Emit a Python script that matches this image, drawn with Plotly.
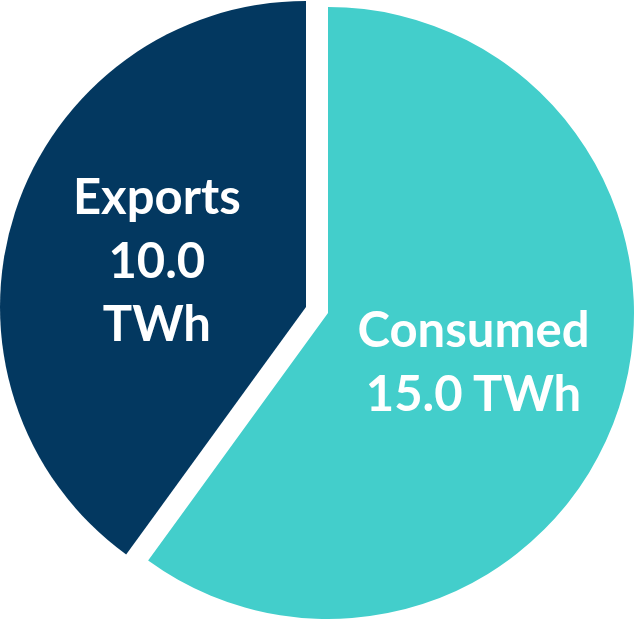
import plotly.graph_objects as go

# Electricity split (TWh)
labels = ["Consumed", "Exports"]
values = [15.0, 10.0]
colors = ["#43CECB", "#033860"]
# line breaks used inside each slice's label
label_breaks = ["<br>", "<br>"]
unit_breaks = [" ", "<br>"]

texts = [
    f"{lab}{b1}{val:.1f}{b2}TWh"
    for lab, val, b1, b2 in zip(labels, values, label_breaks, unit_breaks)
]

W, H = 636, 620
# each wedge is drawn in its own, slightly offset domain so the two pieces
# sit apart from each other with a white gap
domains = [
    dict(x=[22 / W, 634 / W], y=[1 - 619 / H, 1 - 7 / H]),
    dict(x=[0 / W, 612 / W], y=[1 - 613 / H, 1 - 1 / H]),
]

fig = go.Figure()
for i, dom in enumerate(domains):
    slice_colors = [c if j == i else "rgba(0,0,0,0)" for j, c in enumerate(colors)]
    slice_text = [t if j == i else "" for j, t in enumerate(texts)]
    fig.add_trace(
        go.Pie(
            labels=labels,
            values=values,
            sort=False,
            direction="clockwise",
            rotation=0,
            domain=dom,
            marker=dict(colors=slice_colors, line=dict(width=0)),
            text=slice_text,
            textinfo="text",
            textposition="inside",
            insidetextorientation="horizontal",
            insidetextfont=dict(family="Lato", size=49, color="white", weight="bold"),
            hoverinfo="label+value",
            showlegend=False,
        )
    )

fig.update_layout(
    width=W,
    height=H,
    margin=dict(l=0, r=0, t=0, b=0),
    paper_bgcolor="white",
    plot_bgcolor="white",
    showlegend=False,
)

fig.write_html("out.html")
